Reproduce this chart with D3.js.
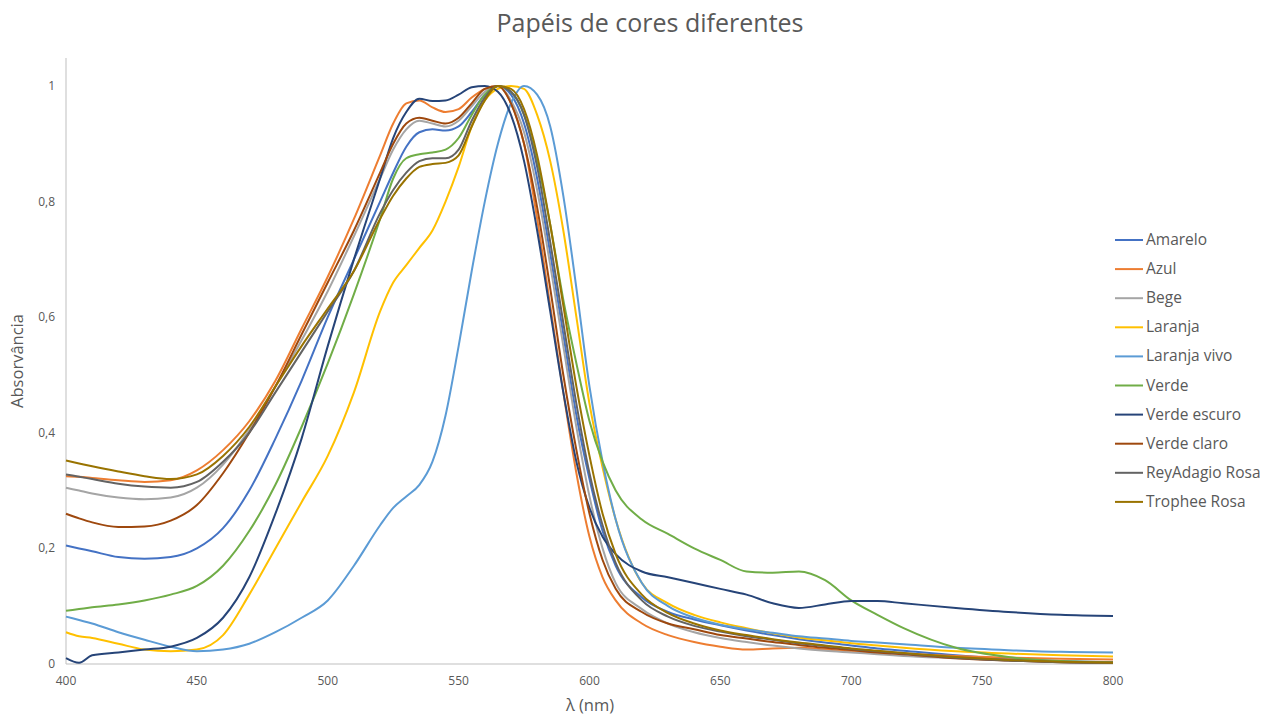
<!DOCTYPE html>
<html>
<head>
<meta charset="utf-8">
<script src="https://cdn.jsdelivr.net/npm/d3@7"></script>
<style>
  body { margin: 0; background: #fff; }
  text { font-family: "Open Sans", "Liberation Sans", Arial, sans-serif; fill: #595959; }
</style>
</head>
<body>
<div id="chart"></div>
<script>
// wavelength grid (nm)
var wl = [400,405,410,420,430,440,450,460,470,480,490,500,510,520,525,530,535,540,545,550,555,560,565,570,575,580,585,590,595,600,605,610,620,630,640,650,660,670,680,690,700,710,720,740,760,780,800];

var seriesNames = ["Amarelo","Azul","Bege","Laranja","Laranja vivo","Verde","Verde escuro","Verde claro","ReyAdagio Rosa","Trophee Rosa"];
var seriesColors = ["#4472C4","#ED7D31","#A5A5A5","#FFC000","#5B9BD5","#70AD47","#264478","#9E480E","#636363","#997300"];

var amarelo     = [.205,.2,.195,.185,.182,.185,.2,.235,.3,.39,.49,.6,.7,.8,.85,.895,.92,.925,.923,.93,.955,.985,1,.985,.935,.84,.71,.57,.43,.32,.23,.17,.115,.09,.077,.067,.058,.05,.043,.037,.032,.027,.023,.015,.009,.005,.003];
var azul        = [.325,.324,.322,.318,.315,.318,.335,.37,.42,.49,.58,.67,.77,.88,.935,.97,.975,.963,.955,.96,.98,.995,1,.97,.9,.77,.62,.47,.33,.22,.15,.11,.07,.05,.038,.03,.025,.027,.028,.025,.022,.02,.018,.014,.011,.009,.008];
var bege        = [.305,.3,.295,.288,.285,.288,.305,.345,.405,.48,.56,.645,.74,.84,.89,.925,.94,.935,.93,.94,.965,.99,1,.975,.92,.82,.69,.55,.41,.29,.2,.14,.095,.07,.055,.045,.038,.032,.027,.023,.02,.017,.014,.01,.006,.004,.003];
var laranja     = [.055,.048,.045,.035,.025,.022,.025,.05,.12,.2,.28,.36,.47,.61,.66,.69,.72,.75,.8,.86,.93,.975,.995,1,.995,.95,.87,.75,.6,.45,.34,.25,.14,.105,.085,.072,.062,.053,.046,.041,.036,.032,.028,.022,.018,.015,.013];
var laranjaVivo = [.082,.076,.07,.055,.042,.03,.022,.025,.035,.055,.08,.11,.17,.24,.27,.29,.31,.35,.43,.55,.68,.8,.9,.97,1,.985,.93,.81,.65,.48,.35,.25,.14,.1,.08,.068,.06,.054,.048,.044,.04,.037,.034,.028,.024,.021,.02];
var verde       = [.092,.095,.098,.103,.11,.12,.135,.17,.23,.31,.41,.52,.64,.77,.84,.875,.882,.885,.89,.91,.95,.985,1,.99,.95,.87,.76,.63,.52,.42,.35,.3,.25,.225,.2,.18,.16,.158,.16,.145,.11,.085,.062,.028,.012,.005,.003];
var verdeEscuro = [.01,.002,.015,.02,.025,.03,.045,.08,.15,.26,.39,.55,.7,.84,.91,.955,.978,.974,.975,.985,.998,1,.99,.95,.87,.75,.61,.47,.35,.27,.22,.19,.16,.15,.14,.13,.12,.105,.097,.103,.109,.109,.105,.097,.09,.085,.083];
var verdeClaro  = [.26,.252,.245,.237,.238,.248,.275,.33,.4,.48,.57,.66,.75,.85,.9,.935,.945,.94,.935,.945,.97,.995,1,.97,.9,.79,.65,.5,.37,.26,.18,.13,.09,.07,.06,.05,.044,.038,.033,.028,.024,.02,.017,.01,.006,.003,.002];
var reyAdagio   = [.328,.324,.32,.312,.307,.305,.315,.35,.4,.47,.54,.61,.68,.78,.82,.85,.87,.875,.875,.89,.94,.98,1,.99,.95,.86,.73,.59,.45,.33,.24,.175,.11,.082,.066,.056,.048,.042,.036,.031,.026,.022,.018,.011,.006,.003,.002];
var trophee     = [.352,.347,.342,.333,.325,.32,.328,.36,.41,.48,.55,.615,.68,.77,.81,.84,.86,.865,.867,.88,.93,.975,1,.995,.96,.88,.76,.62,.48,.36,.26,.19,.12,.088,.07,.058,.05,.043,.037,.032,.027,.023,.019,.012,.007,.004,.002];

var allValues = [amarelo, azul, bege, laranja, laranjaVivo, verde, verdeEscuro, verdeClaro, reyAdagio, trophee];

var xTicks = [400,450,500,550,600,650,700,750,800];
var yTicks = [0,0.2,0.4,0.6,0.8,1];

var width = 1268, height = 715;
var svg = d3.select("#chart").append("svg")
    .attr("width", width)
    .attr("height", height);

var x = d3.scaleLinear().domain([400, 800]).range([66, 1113]);
var y = d3.scaleLinear().domain([0, 1]).range([664, 86]);

// title
svg.append("text")
    .attr("x", 650).attr("y", 32)
    .attr("text-anchor", "middle")
    .attr("font-size", "25px")
    .text("Papéis de cores diferentes");

// axis lines
svg.append("line")
    .attr("x1", x(400)).attr("x2", x(400))
    .attr("y1", 58).attr("y2", y(0))
    .attr("stroke", "#bfbfbf").attr("stroke-width", 1);
svg.append("line")
    .attr("x1", x(400)).attr("x2", x(800))
    .attr("y1", y(0)).attr("y2", y(0))
    .attr("stroke", "#bfbfbf").attr("stroke-width", 1);

// tick labels
svg.selectAll(".xt").data(xTicks).enter()
    .append("text")
    .attr("class", "xt")
    .attr("x", function(d) { return x(d); })
    .attr("y", 685)
    .attr("text-anchor", "middle")
    .attr("font-size", "12px")
    .text(function(d) { return d; });

svg.selectAll(".yt").data(yTicks).enter()
    .append("text")
    .attr("class", "yt")
    .attr("x", 55)
    .attr("y", function(d) { return y(d) + 4; })
    .attr("text-anchor", "end")
    .attr("font-size", "12px")
    .text(function(d) { return String(d).replace(".", ","); });

// axis titles
svg.append("text")
    .attr("x", 590).attr("y", 711)
    .attr("text-anchor", "middle")
    .attr("font-size", "16.5px")
    .text("λ (nm)");
svg.append("text")
    .attr("transform", "translate(23,361) rotate(-90)")
    .attr("text-anchor", "middle")
    .attr("font-size", "16.5px")
    .text("Absorvância");

// lines
var line = d3.line()
    .x(function(d) { return x(d[0]); })
    .y(function(d) { return y(d[1]); })
    .curve(d3.curveMonotoneX);

allValues.forEach(function(vals, i) {
    svg.append("path")
        .datum(wl.map(function(w, j) { return [w, vals[j]]; }))
        .attr("fill", "none")
        .attr("stroke", seriesColors[i])
        .attr("stroke-width", 2)
        .attr("d", line);
});

// legend
var legend = svg.selectAll(".lg").data(seriesNames).enter()
    .append("g")
    .attr("class", "lg")
    .attr("transform", function(d, i) { return "translate(1115," + (240 + i * 29.1) + ")"; });
legend.append("line")
    .attr("x1", 0).attr("x2", 28)
    .attr("stroke", function(d, i) { return seriesColors[i]; })
    .attr("stroke-width", 2);
legend.append("text")
    .attr("x", 31).attr("y", 5)
    .attr("font-size", "15.5px")
    .text(function(d) { return d; });
</script>
</body>
</html>
